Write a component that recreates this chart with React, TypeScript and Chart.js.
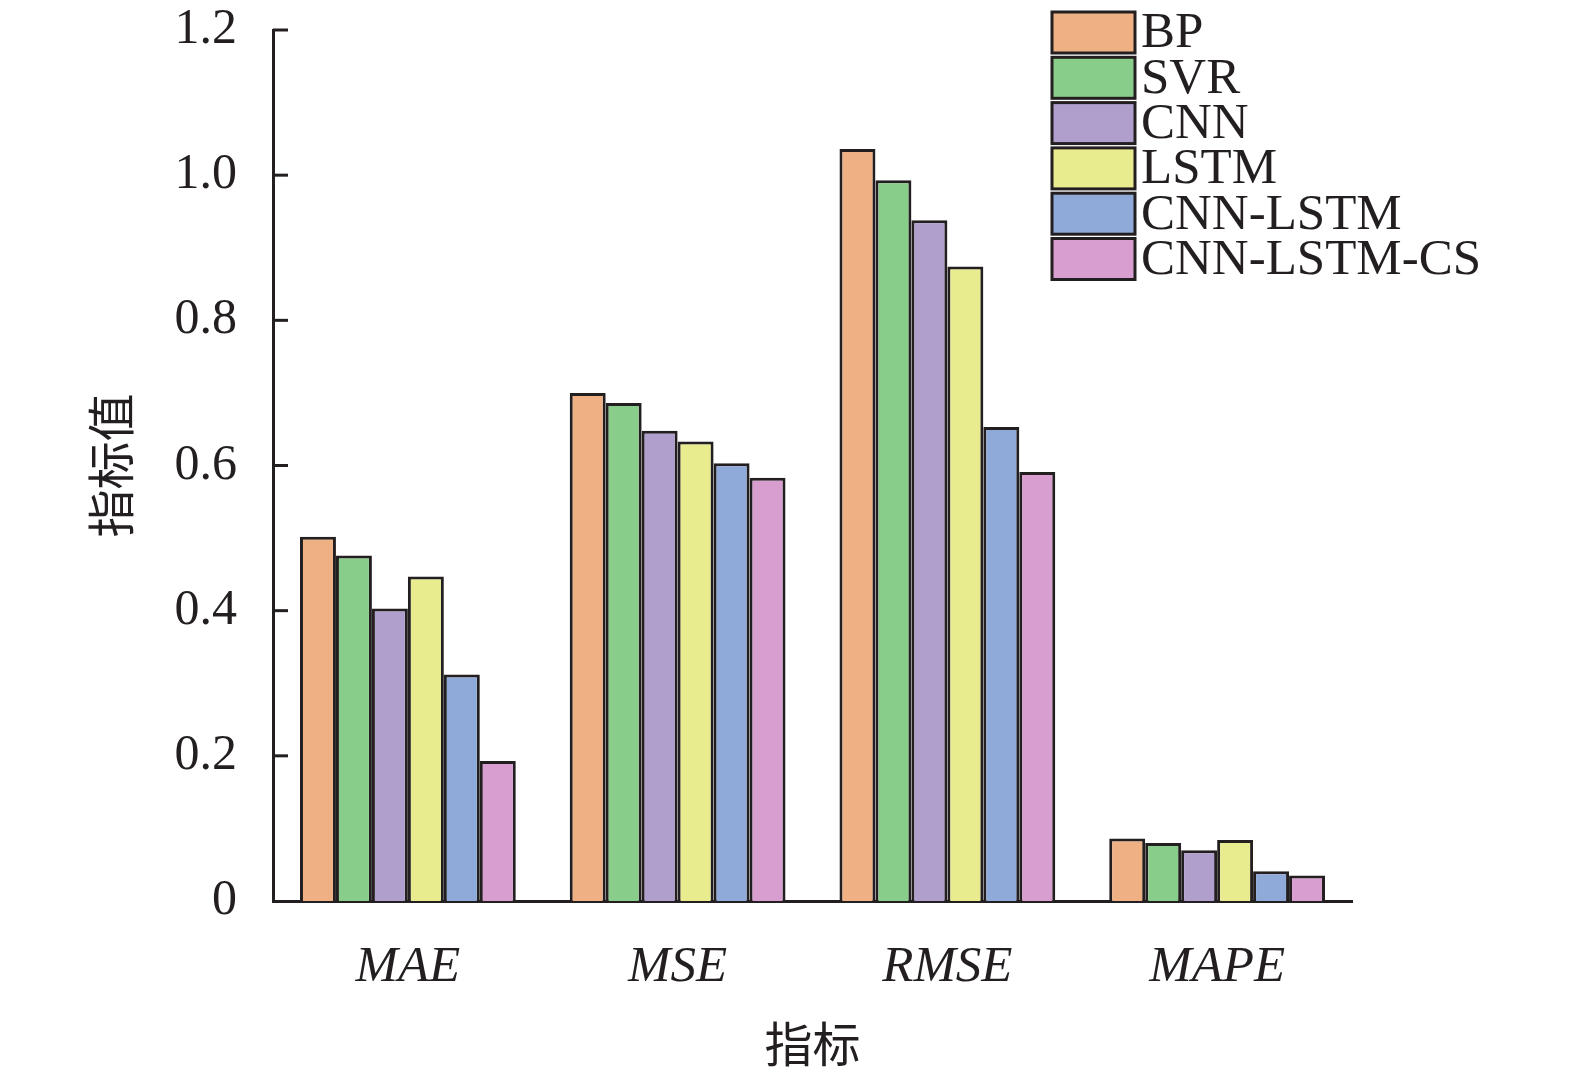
import { useEffect, useRef } from 'react';
import { Chart, registerables } from 'chart.js';

Chart.register(...registerables);

const categories = ['MAE', 'MSE', 'RMSE', 'MAPE'];
const models = ['BP', 'SVR', 'CNN', 'LSTM', 'CNN-LSTM', 'CNN-LSTM-CS'];
const bpValues = [0.502, 0.7, 1.036, 0.086];
const svrValues = [0.476, 0.686, 0.993, 0.08];
const cnnValues = [0.403, 0.648, 0.938, 0.07];
const lstmValues = [0.447, 0.633, 0.874, 0.084];
const cnnLstmValues = [0.312, 0.603, 0.653, 0.041];
const cnnLstmCsValues = [0.193, 0.583, 0.591, 0.035];
const seriesValues = [bpValues, svrValues, cnnValues, lstmValues, cnnLstmValues, cnnLstmCsValues];
const colors = ['#efb084', '#89cd8b', '#b09fcd', '#e8ec8e', '#8faad8', '#d89ecf'];

const ink = '#231f20';
const serif = '"Liberation Serif", "Times New Roman", serif';
const cjk = '"Noto Sans CJK SC", sans-serif';

// y ticks point into the plot, so draw them ourselves
const inwardTicks = {
  id: 'inwardTicks',
  afterDraw(chart: any) {
    const { ctx, scales } = chart;
    const y = scales.y;
    ctx.save();
    ctx.strokeStyle = ink;
    ctx.lineWidth = 3;
    y.ticks.forEach((t: any) => {
      if (t.value === 0) return;
      const py = y.getPixelForValue(t.value);
      ctx.beginPath();
      ctx.moveTo(y.right, py);
      ctx.lineTo(y.right + 15, py);
      ctx.stroke();
    });
    ctx.restore();
  },
};

const boxLegend = {
  id: 'boxLegend',
  afterDraw(chart: any) {
    const { ctx } = chart;
    ctx.save();
    ctx.font = `51px ${serif}`;
    ctx.textBaseline = 'middle';
    ctx.textAlign = 'left';
    chart.data.datasets.forEach((ds: any, i: number) => {
      const top = 12 + i * 45.3;
      ctx.fillStyle = ds.backgroundColor;
      ctx.fillRect(1052, top, 83, 41);
      ctx.strokeStyle = ink;
      ctx.lineWidth = 3;
      ctx.strokeRect(1052, top, 83, 41);
      ctx.fillStyle = ink;
      ctx.fillText(ds.label, 1141, top + 22);
    });
    ctx.restore();
  },
};

export default function App() {
  const chartRef = useRef<HTMLCanvasElement>(null);

  useEffect(() => {
    if (!chartRef.current) return;

    const chart = new Chart(chartRef.current, {
      type: 'bar',
      data: {
        labels: categories,
        datasets: models.map((m, i) => ({
          label: m,
          data: seriesValues[i],
          backgroundColor: colors[i],
          borderColor: ink,
          borderWidth: 3,
          categoryPercentage: 0.8,
          barPercentage: 1.0,
        })),
      },
      options: {
        responsive: false,
        devicePixelRatio: 1,
        animation: false,
        layout: { padding: { left: 0, top: 30, right: 223, bottom: 0 } },
        plugins: {
          legend: { display: false },
          tooltip: { enabled: false },
        },
        scales: {
          x: {
            grid: { display: false, drawTicks: false },
            border: { display: true, color: ink, width: 3 },
            ticks: {
              color: ink,
              padding: 36,
              font: { family: serif, size: 51, style: 'italic' },
            },
            title: {
              display: true,
              text: '指标',
              color: ink,
              font: { family: cjk, size: 48 },
              padding: { top: 0, bottom: 7 },
            },
            afterFit: (s: any) => {
              s.height = 179;
              s.paddingLeft = 0;
              s.paddingRight = 0;
            },
          },
          y: {
            min: 0,
            max: 1.2,
            grid: { display: false, drawTicks: false },
            border: { display: true, color: ink, width: 3 },
            ticks: {
              stepSize: 0.2,
              color: ink,
              padding: 36,
              font: { family: serif, size: 50 },
              callback: (v: any) => (Number(v) === 0 ? '0' : Number(v).toFixed(1)),
            },
            title: {
              display: true,
              text: '指标值',
              color: ink,
              font: { family: cjk, size: 48 },
              padding: { top: 82, bottom: 0 },
            },
            afterFit: (s: any) => {
              s.width = 273;
              s.paddingTop = 0;
              s.paddingBottom = 0;
            },
          },
        },
      },
      plugins: [inwardTicks, boxLegend],
    });

    return () => chart.destroy();
  }, []);

  return (
    <div style={{ position: 'fixed', left: 0, top: 0, width: 1575, height: 1080, background: '#fff' }}>
      <canvas ref={chartRef} width={1575} height={1080} />
    </div>
  );
}
